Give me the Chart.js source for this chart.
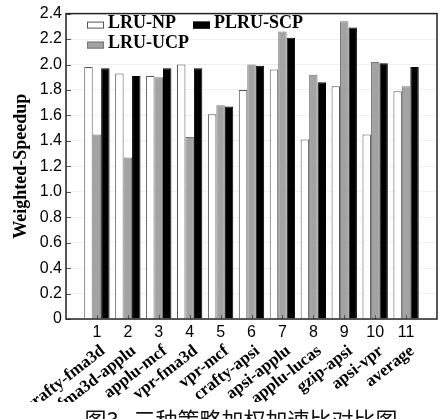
<!DOCTYPE html>
<html>
<head>
<meta charset="utf-8">
<script src="https://cdn.jsdelivr.net/npm/chart.js@4"></script>
<style>
  html, body { margin: 0; padding: 0; background: #fff; overflow: hidden; }
  #wrap { width: 445px; height: 432px; }
</style>
</head>
<body>
<div id="wrap"><canvas id="speedup"></canvas></div>
<script>
const categories = ['crafty-fma3d', 'fma3d-applu', 'applu-mcf', 'vpr-fma3d', 'vpr-mcf', 'crafty-apsi',
  'apsi-applu', 'applu-lucas', 'gzip-apsi', 'apsi-vpr', 'average'];
const groupNumbers = ['1', '2', '3', '4', '5', '6', '7', '8', '9', '10', '11'];
const lruNP = [1.98, 1.93, 1.91, 2.00, 1.61, 1.80, 1.96, 1.41, 1.83, 1.45, 1.79];
const lruUCP = [1.45, 1.27, 1.90, 1.43, 1.68, 2.00, 2.26, 1.92, 2.34, 2.02, 1.83];
const plruSCP = [1.97, 1.91, 1.97, 1.97, 1.67, 1.99, 2.21, 1.86, 2.29, 2.01, 1.98];
const caption = '图3   三种策略加权加速比对比图';

const toPoints = arr => arr.map((v, i) => ({ x: i + 1, y: v }));
const groupTicks = scale => { scale.ticks = groupNumbers.map((t, i) => ({ value: i + 1 })); };

// box round the plot + inward tick marks
const framePlugin = {
  id: 'frame',
  afterDatasetsDraw(chart) {
    const { ctx, chartArea: a, scales } = chart;
    ctx.save();
    ctx.strokeStyle = '#555';
    ctx.lineWidth = 1;
    scales.y.ticks.forEach(t => {
      const py = Math.round(scales.y.getPixelForValue(t.value)) + 0.5;
      ctx.beginPath(); ctx.moveTo(a.left, py); ctx.lineTo(a.left + 5, py); ctx.stroke();
    });
    scales.x.ticks.forEach(t => {
      const px = Math.round(scales.x.getPixelForValue(t.value)) + 0.5;
      ctx.beginPath(); ctx.moveTo(px, a.bottom); ctx.lineTo(px, a.bottom - 4); ctx.stroke();
    });
    ctx.strokeStyle = '#222';
    ctx.lineWidth = 1.5;
    ctx.strokeRect(a.left, a.top, a.right - a.left, a.bottom - a.top);
    ctx.restore();
  }
};

// legend drawn inside the plot, two columns, and the figure caption under it all
const insideLegend = {
  id: 'insideLegend',
  afterDraw(chart) {
    const { ctx, chartArea: a } = chart;
    const slots = [
      { ds: 0, x: a.left + 21, y: a.top + 11 },
      { ds: 2, x: a.left + 127, y: a.top + 11 },
      { ds: 1, x: a.left + 21, y: a.top + 31 }
    ];
    ctx.save();
    ctx.font = 'bold 18px "Liberation Serif"';
    ctx.textBaseline = 'middle';
    slots.forEach(s => {
      const d = chart.data.datasets[s.ds];
      ctx.fillStyle = d.backgroundColor;
      ctx.strokeStyle = d.borderColor;
      ctx.lineWidth = 1;
      ctx.fillRect(s.x, s.y - 3, 17, 7);
      ctx.strokeRect(s.x + 0.5, s.y - 2.5, 16, 6);
      ctx.fillStyle = '#000';
      ctx.fillText(d.label, s.x + 21, s.y - 1);
    });
    ctx.font = '22px "Noto Sans CJK SC"';
    ctx.textAlign = 'center';
    ctx.textBaseline = 'top';
    ctx.fillStyle = '#111';
    ctx.fillText(caption, 241, chart.height - 23);
    ctx.restore();
  }
};

new Chart(document.getElementById('speedup'), {
  type: 'bar',
  data: {
    datasets: [
      { label: 'LRU-NP', data: toPoints(lruNP), backgroundColor: '#ffffff', borderColor: '#555', borderWidth: 1 },
      { label: 'LRU-UCP', data: toPoints(lruUCP), backgroundColor: '#a3a3a3', borderColor: '#777', borderWidth: 1 },
      { label: 'PLRU-SCP', data: toPoints(plruSCP), backgroundColor: '#000000', borderColor: '#000', borderWidth: 1 }
    ]
  },
  options: {
    responsive: true,
    maintainAspectRatio: false,
    animation: false,
    layout: { padding: { top: 10, right: 8, left: 0, bottom: 30 } },
    datasets: { bar: { barPercentage: 1.0, categoryPercentage: 0.82 } },
    plugins: {
      legend: { display: false },
      tooltip: { enabled: false }
    },
    scales: {
      x: {
        type: 'linear',
        min: 0,
        max: 12,
        offset: false,
        weight: 0,
        afterBuildTicks: groupTicks,
        afterFit: s => { s.height = 22; },
        grid: { display: false, drawTicks: false, tickLength: 0 },
        border: { display: false },
        ticks: {
          autoSkip: false,
          maxRotation: 0,
          padding: 4,
          color: '#000',
          font: { family: '"Liberation Sans"', size: 16 },
          callback: (v, i) => groupNumbers[i]
        }
      },
      names: {
        // shifted a little to the right so the slanted names end just past each number
        type: 'linear',
        axis: 'x',
        position: 'bottom',
        min: -0.2,
        max: 11.8,
        offset: false,
        weight: 1,
        afterBuildTicks: groupTicks,
        afterFit: s => { s.height = 61; },
        grid: { display: false, drawTicks: false, tickLength: 0 },
        border: { display: false },
        ticks: {
          autoSkip: false,
          minRotation: 38,
          maxRotation: 38,
          padding: 0,
          color: '#000',
          font: { family: '"Liberation Serif"', size: 17, weight: 'bold' },
          callback: (v, i) => categories[i]
        }
      },
      y: {
        min: 0,
        max: 2.4,
        afterFit: s => { s.width = 66; },
        grid: { color: '#f0f0f0', drawTicks: false },
        border: { display: false },
        ticks: {
          stepSize: 0.2,
          padding: 4,
          color: '#000',
          font: { family: '"Liberation Sans"', size: 16 },
          callback: v => (v === 0 ? '0' : v.toFixed(1))
        },
        title: {
          display: true,
          text: 'Weighted-Speedup',
          color: '#000',
          font: { family: '"Liberation Serif"', size: 18, weight: 'bold' },
          padding: { top: 11, bottom: 0 }
        }
      }
    }
  },
  plugins: [framePlugin, insideLegend]
});
</script>
</body>
</html>
